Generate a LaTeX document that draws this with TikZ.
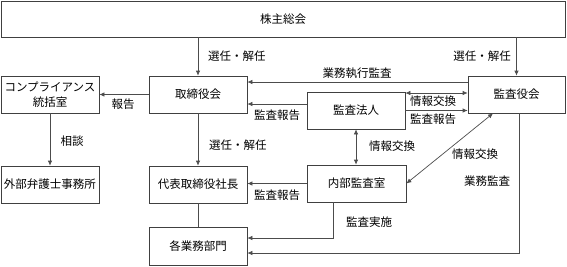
\documentclass[tikz,border=0pt]{standalone}
\usepackage{fontspec}
\newfontfamily\jpfont{Noto Sans CJK JP}
\usetikzlibrary{arrows.meta}
\begin{document}
\begin{tikzpicture}[x=1pt,y=-1pt,
  every node/.style={font=\jpfont\fontsize{11.5}{15}\selectfont, text=black},
  box/.style={draw=black!75, line width=0.7pt, inner sep=0pt, align=center, minimum width=98pt, minimum height=37pt},
  conn/.style={draw=black!70, line width=0.7pt},
  arr/.style={conn, -{Latex[length=5pt,width=4.5pt]}},
  darr/.style={conn, {Latex[length=5pt,width=4.5pt]}-{Latex[length=5pt,width=4.5pt]}},
  lbl/.style={inner sep=0pt}
]
\useasboundingbox (0,0) rectangle (567,266);
% boxes
\node[box, minimum width=564pt, minimum height=36pt] (kabu) at (283,19) {株主総会};
\node[box] (tori) at (198,94.5) {取締役会};
\node[box] (comp) at (50,94.5) {コンプライアンス\\統括室};
\node[box] (bengo) at (50,184.5) {外部弁護士事務所};
\node[box] (daihyo) at (198,184.5) {代表取締役社長};
\node[box, minimum height=38pt] (kaku) at (198,246) {各業務部門};
\node[box] (hojin) at (356,110.5) {監査法人};
\node[box, minimum width=99pt] (naibu) at (356.5,183.5) {内部監査室};
\node[box, minimum width=97pt] (kansa) at (516.5,94.5) {監査役会};
% connectors
\draw[arr] (kabu.south -| tori.north) -- (tori.north);
\draw[arr] (kabu.south -| kansa.north) -- (kansa.north);
\draw[arr] ([yshift=12.5pt]kansa.west) -- ([yshift=12.5pt]kansa.west -| tori.east);
\draw[arr] ([yshift=6.5pt]hojin.west) -- ([yshift=6.5pt]hojin.west -| tori.east);
\draw[darr] ([yshift=17.5pt]hojin.east) -- ([yshift=17.5pt]hojin.east -| kansa.west);
\draw[arr] (hojin.east) -- (hojin.east -| kansa.west);
\draw[darr] (hojin.south) -- (hojin.south |- naibu.north);
\draw[darr] ([xshift=-23.5pt]kansa.south) -- (naibu.east);
\draw[arr] (naibu.west) -- (naibu.west -| daihyo.east);
\draw[arr] (tori.south) -- (daihyo.north);
\draw[arr] (tori.west) -- (comp.east);
\draw[arr] (comp.south) -- (bengo.north);
\draw[conn] (daihyo.south) -- (kaku.north);
\draw[arr] ([xshift=-23.5pt]naibu.south) |- ([yshift=8pt]kaku.east);
\draw[arr] ([xshift=2.5pt]kansa.south) |- ([yshift=-7pt]kaku.east);
% labels
\node[lbl, anchor=west] (l1) at (208,56) {選任・解任};
\node[lbl, anchor=east] (l2) at (511,56) {選任・解任};
\node[lbl] (l3) at (357,73) {業務執行監査};
\node[lbl] (l4) at (123,104) {報告};
\node[lbl] (l5) at (277,115) {監査報告};
\node[lbl] (l6) at (433,101) {情報交換};
\node[lbl] (l7) at (433,119) {監査報告};
\node[lbl] (l8) at (72,141) {相談};
\node[lbl, anchor=west] (l9) at (209,145) {選任・解任};
\node[lbl] (l10) at (392,146) {情報交換};
\node[lbl] (l11) at (475,154) {情報交換};
\node[lbl] (l12) at (487,181) {業務監査};
\node[lbl] (l13) at (277,195) {監査報告};
\node[lbl] (l14) at (369,222) {監査実施};
\end{tikzpicture}
\end{document}
